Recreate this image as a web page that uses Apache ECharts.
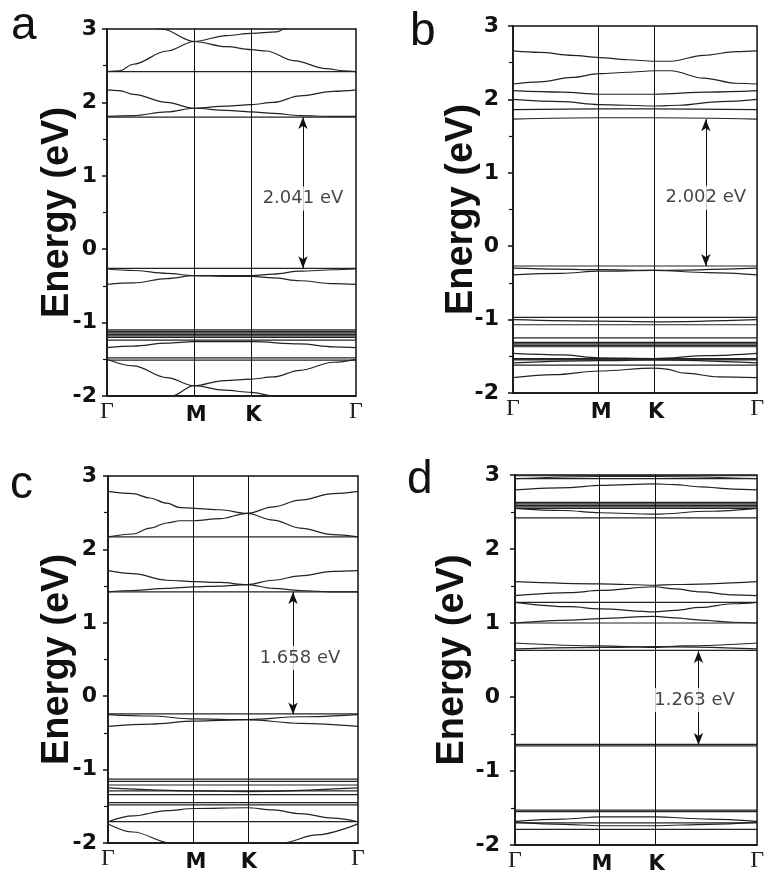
<!DOCTYPE html>
<html>
<head>
<meta charset="utf-8">
<script src="https://cdn.jsdelivr.net/npm/echarts@6/dist/echarts.min.js"></script>
<style>
html,body{margin:0;padding:0;background:#fff;}
#band{width:767px;height:875px;}
</style>
</head>
<body>
<div id="band"></div>
<script>
// band structures along Γ-M-K-Γ, four panels (a-d)
// k positions are fractions of the path, energies in eV

var kLabels = ['Γ', 'M', 'K', 'Γ'];
var kA = [0, 0.35, 0.58, 1];
var kB = [0, 0.353, 0.578, 1];
var kC = [0, 0.344, 0.556, 1];
var kD = [0, 0.351, 0.577, 1];

var bandsA = [
	[[0,2.42],[1,2.42]],
	[[0,2.42],[0.05,2.43],[0.106,2.52],[0.24,2.70],[0.35,2.83],[0.48,2.91],[0.58,2.94],[0.68,2.96],[0.715,3.0],[0.75,3.05]],
	[[0.16,3.06],[0.22,3.0],[0.35,2.83],[0.48,2.76],[0.58,2.72],[0.64,2.70],[0.75,2.57],[0.88,2.46],[0.95,2.43],[1,2.42]],
	[[0,1.80],[1,1.80]],
	[[0,1.81],[0.106,1.82],[0.24,1.87],[0.35,1.92],[0.48,1.95],[0.58,1.97],[0.668,2.00],[0.775,2.09],[0.909,2.15],[1,2.17]],
	[[0,2.17],[0.05,2.16],[0.106,2.11],[0.24,2.00],[0.35,1.92],[0.48,1.89],[0.58,1.87],[0.668,1.85],[0.775,1.82],[0.909,1.81],[1,1.81]],
	[[0,-0.26],[1,-0.26]],
	[[0,-0.27],[0.106,-0.29],[0.24,-0.33],[0.35,-0.36],[0.48,-0.37],[0.58,-0.37],[0.668,-0.39],[0.775,-0.43],[0.909,-0.47],[1,-0.48]],
	[[0,-0.48],[0.106,-0.46],[0.24,-0.40],[0.35,-0.36],[0.48,-0.36],[0.58,-0.36],[0.668,-0.34],[0.775,-0.30],[0.909,-0.28],[1,-0.27]],
	[[0,-1.10],[1,-1.10]],
	[[0,-1.12],[1,-1.12]],
	[[0,-1.14],[1,-1.14]],
	[[0,-1.16],[1,-1.16]],
	[[0,-1.18],[1,-1.18]],
	[[0,-1.20],[1,-1.20]],
	[[0,-1.24],[1,-1.24]],
	[[0,-1.34],[0.106,-1.32],[0.24,-1.28],[0.35,-1.26],[0.58,-1.26],[0.775,-1.29],[0.909,-1.33],[1,-1.34]],
	[[0,-1.48],[1,-1.48]],
	[[0,-1.51],[1,-1.51]],
	[[0,-1.50],[0.106,-1.59],[0.24,-1.75],[0.35,-1.86],[0.47,-1.92],[0.58,-1.95],[0.668,-2.0],[0.75,-2.04]],
	[[0.2,-2.05],[0.26,-2.0],[0.35,-1.86],[0.47,-1.79],[0.58,-1.77],[0.668,-1.74],[0.775,-1.65],[0.909,-1.54],[1,-1.50]]
];

var bandsB = [
	[[0,2.66],[0.11,2.64],[0.243,2.60],[0.353,2.57],[0.47,2.54],[0.578,2.52],[0.646,2.52],[0.78,2.60],[0.915,2.65],[1,2.66]],
	[[0,2.21],[0.11,2.24],[0.243,2.30],[0.353,2.35],[0.47,2.37],[0.578,2.39],[0.646,2.39],[0.78,2.29],[0.915,2.22],[1,2.21]],
	[[0,2.12],[0.2,2.10],[0.353,2.07],[0.578,2.07],[0.8,2.10],[1,2.12]],
	[[0,2.00],[0.2,1.97],[0.353,1.93],[0.578,1.91],[0.68,1.92],[0.85,1.97],[1,2.00]],
	[[0,1.86],[0.353,1.87],[0.578,1.87],[1,1.86]],
	[[0,1.73],[0.353,1.75],[0.578,1.75],[1,1.73]],
	[[0,-0.27],[1,-0.27]],
	[[0,-0.30],[0.353,-0.32],[0.578,-0.33],[1,-0.30]],
	[[0,-0.39],[0.2,-0.37],[0.353,-0.34],[0.578,-0.33],[0.8,-0.36],[1,-0.39]],
	[[0,-0.97],[1,-0.97]],
	[[0,-1.00],[0.353,-1.02],[0.578,-1.03],[1,-1.00]],
	[[0,-1.07],[1,-1.07]],
	[[0,-1.25],[1,-1.25]],
	[[0,-1.31],[1,-1.31]],
	[[0,-1.33],[1,-1.33]],
	[[0,-1.35],[1,-1.35]],
	[[0,-1.37],[1,-1.37]],
	[[0,-1.46],[0.2,-1.48],[0.353,-1.52],[0.578,-1.53],[0.8,-1.49],[1,-1.46]],
	[[0,-1.53],[1,-1.53]],
	[[0,-1.54],[1,-1.54]],
	[[0,-1.55],[1,-1.55]],
	[[0,-1.59],[0.353,-1.56],[0.578,-1.55],[1,-1.59]],
	[[0,-1.62],[1,-1.62]],
	[[0,-1.79],[0.169,-1.75],[0.353,-1.70],[0.578,-1.66],[0.62,-1.67],[0.706,-1.73],[0.84,-1.78],[1,-1.79]]
];

var bandsC = [
	[[0,2.79],[0.10,2.76],[0.168,2.70],[0.235,2.63],[0.288,2.57],[0.344,2.56],[0.448,2.54],[0.556,2.49],[0.661,2.40],[0.768,2.29],[0.901,2.20],[1,2.17]],
	[[0,2.17],[0.10,2.21],[0.168,2.29],[0.235,2.36],[0.288,2.39],[0.344,2.39],[0.448,2.42],[0.556,2.49],[0.661,2.58],[0.768,2.67],[0.901,2.76],[1,2.79]],
	[[0,2.17],[1,2.17]],
	[[0,1.71],[0.10,1.67],[0.235,1.58],[0.344,1.56],[0.448,1.55],[0.556,1.52],[0.661,1.58],[0.768,1.64],[0.901,1.70],[1,1.71]],
	[[0,1.42],[0.10,1.44],[0.235,1.47],[0.344,1.49],[0.448,1.50],[0.556,1.52],[0.661,1.47],[0.768,1.44],[0.901,1.42],[1,1.42]],
	[[0,1.42],[1,1.42]],
	[[0,-0.24],[1,-0.24]],
	[[0,-0.25],[0.17,-0.27],[0.344,-0.31],[0.556,-0.32],[0.77,-0.28],[1,-0.25]],
	[[0,-0.41],[0.17,-0.38],[0.344,-0.34],[0.556,-0.32],[0.77,-0.37],[1,-0.41]],
	[[0,-1.13],[1,-1.13]],
	[[0,-1.16],[1,-1.16]],
	[[0,-1.21],[1,-1.21]],
	[[0,-1.25],[0.344,-1.29],[0.556,-1.30],[1,-1.25]],
	[[0,-1.29],[1,-1.29]],
	[[0,-1.34],[1,-1.34]],
	[[0,-1.45],[1,-1.45]],
	[[0,-1.48],[1,-1.48]],
	[[0,-1.71],[0.10,-1.63],[0.235,-1.56],[0.344,-1.53],[0.556,-1.52],[0.661,-1.55],[0.768,-1.60],[0.901,-1.66],[1,-1.71]],
	[[0,-1.71],[1,-1.71]],
	[[0,-1.74],[0.10,-1.85],[0.25,-2.0],[0.3,-2.05]],
	[[0.65,-2.05],[0.695,-2.0],[0.835,-1.89],[1,-1.74]]
];

var bandsD = [
	[[0,2.99],[1,2.99]],
	[[0,2.95],[0.351,2.98],[0.577,2.98],[1,2.95]],
	[[0,2.95],[1,2.95]],
	[[0,2.80],[0.228,2.83],[0.351,2.86],[0.577,2.88],[0.659,2.87],[0.766,2.84],[0.9,2.81],[1,2.80]],
	[[0,2.63],[1,2.63]],
	[[0,2.61],[1,2.61]],
	[[0,2.59],[1,2.59]],
	[[0,2.57],[1,2.57]],
	[[0,2.55],[1,2.55]],
	[[0,2.55],[0.2,2.52],[0.351,2.49],[0.577,2.47],[0.8,2.51],[1,2.55]],
	[[0,2.42],[1,2.42]],
	[[0,1.56],[0.351,1.53],[0.577,1.51],[0.659,1.52],[1,1.56]],
	[[0,1.37],[0.228,1.41],[0.351,1.44],[0.577,1.49],[0.659,1.46],[0.766,1.42],[0.9,1.38],[1,1.37]],
	[[0,1.28],[1,1.28]],
	[[0,1.28],[0.228,1.22],[0.351,1.19],[0.577,1.15],[0.659,1.17],[0.766,1.21],[0.9,1.26],[1,1.28]],
	[[0,1.00],[1,1.00]],
	[[0,1.00],[0.228,1.04],[0.351,1.06],[0.577,1.09],[0.659,1.07],[0.766,1.04],[0.9,1.01],[1,1.00]],
	[[0,0.73],[0.351,0.69],[0.577,0.67],[0.7,0.69],[1,0.73]],
	[[0,0.65],[0.351,0.67],[0.577,0.68],[1,0.65]],
	[[0,0.63],[1,0.63]],
	[[0,-0.64],[1,-0.64]],
	[[0,-0.66],[1,-0.66]],
	[[0,-1.53],[1,-1.53]],
	[[0,-1.55],[1,-1.55]],
	[[0,-1.68],[0.2,-1.65],[0.351,-1.62],[0.577,-1.62],[0.8,-1.65],[1,-1.68]],
	[[0,-1.69],[0.2,-1.72],[0.351,-1.74],[0.577,-1.74],[0.8,-1.72],[1,-1.69]],
	[[0,-1.70],[1,-1.70]],
	[[0,-1.79],[1,-1.79]]
];

// gap arrows: [k of arrow, CBM, VBM], label [k, E] and text
var gapA = {arrow:[0.787, 1.80, -0.26], label:[0.787, 0.69], text:'2.041 eV'};
var gapB = {arrow:[0.79, 1.73, -0.27], label:[0.79, 0.66], text:'2.002 eV'};
var gapC = {arrow:[0.74, 1.42, -0.25], label:[0.768, 0.52], text:'1.658 eV'};
var gapD = {arrow:[0.758, 0.62, -0.65], label:[0.742, -0.04], text:'1.263 eV'};

var panelLetters = ['a', 'b', 'c', 'd'];

var panels = [
	{k:kA, bands:bandsA, gap:gapA, grid:{left:107, top:29, width:249, height:367}, labelMargin:10, nameGap:30, letter:[11, 3]},
	{k:kB, bands:bandsB, gap:gapB, grid:{left:513, top:26, width:248, height:367}, labelMargin:14, nameGap:32, letter:[410, 9]},
	{k:kC, bands:bandsC, gap:gapC, grid:{left:108, top:476, width:250, height:367}, labelMargin:11, nameGap:31, letter:[10, 462]},
	{k:kD, bands:bandsD, gap:gapD, grid:{left:515, top:475, width:248, height:370}, labelMargin:15, nameGap:43, letter:[407, 457]}
];

var sansFont = '"Liberation Sans", Arial, Helvetica, sans-serif';
var wideFont = '"DejaVu Sans", Verdana, sans-serif';
var serifFont = '"Liberation Serif", "Times New Roman", serif';

var myChart = echarts.init(document.getElementById('band'));

var grids = [], xAxes = [], yAxes = [], series = [], titles = [];

panels.forEach(function (p, i) {
	grids.push({
		left:p.grid.left, top:p.grid.top, width:p.grid.width, height:p.grid.height,
		show:true, borderColor:'#111', borderWidth:1.5, containLabel:false
	});
	xAxes.push({
		gridIndex:i, type:'value', min:0, max:1,
		axisLine:{show:true, onZero:false, lineStyle:{color:'#111', width:1.5}},
		axisTick:{show:false},
		splitLine:{show:false},
		axisLabel:{
			customValues:p.k,
			margin:4,
			formatter:function (v) {
				var idx = 0, best = 9;
				p.k.forEach(function (kk, j) { if (Math.abs(kk - v) < best) { best = Math.abs(kk - v); idx = j; } });
				return kLabels[idx] === 'Γ' ? '{g|Γ}' : '{b|' + kLabels[idx] + '}';
			},
			rich:{
				g:{fontFamily:serifFont, fontSize:24, color:'#222', lineHeight:24},
				b:{fontFamily:wideFont, fontSize:21, fontWeight:'bold', color:'#111', lineHeight:24, padding:[7, 0, 0, 4]}
			}
		}
	});
	yAxes.push({
		gridIndex:i, type:'value', min:-2, max:3, interval:1,
		name:'Energy (eV)', nameLocation:'middle', nameGap:p.nameGap, nameRotate:90,
		nameMoveOverlap:false,
		nameTextStyle:{fontFamily:sansFont, fontSize:38, fontWeight:'bold', color:'#111'},
		axisLine:{show:true, lineStyle:{color:'#111', width:1.5}},
		axisTick:{show:true, inside:false, length:5, lineStyle:{color:'#111', width:1.5}},
		minorTick:{show:true, splitNumber:2, length:4, lineStyle:{color:'#111', width:1.2}},
		splitLine:{show:false},
		axisLabel:{fontFamily:wideFont, fontSize:22, fontWeight:'bold', color:'#111', margin:p.labelMargin}
	});

	p.bands.forEach(function (b, j) {
		var s = {
			type:'line', xAxisIndex:i, yAxisIndex:i, data:b,
			showSymbol:false, smooth:0.35, smoothMonotone:'x', clip:true,
			silent:true, animation:false,
			lineStyle:{color:'#222', width:1.2}
		};
		if (j === 0) {
			s.markLine = {
				silent:true, animation:false, symbol:['none', 'none'],
				label:{show:false},
				lineStyle:{color:'#111', width:1, type:'solid'},
				data:[{xAxis:p.k[1]}, {xAxis:p.k[2]}]
			};
		}
		series.push(s);
	});

	// gap annotation: double arrow plus text on white
	series.push({
		type:'scatter', xAxisIndex:i, yAxisIndex:i, z:10,
		data:[p.gap.label], symbolSize:0, silent:true, animation:false,
		label:{
			show:true, position:'inside', formatter:p.gap.text,
			fontFamily:wideFont, fontSize:18, color:'#151515',
			backgroundColor:'#fff', padding:[3, 1]
		},
		markLine:{
			silent:true, animation:false, z:1,
			symbol:['arrow', 'arrow'], symbolSize:[7, 12],
			label:{show:false},
			lineStyle:{color:'#111', width:1, type:'solid'},
			data:[[{coord:[p.gap.arrow[0], p.gap.arrow[1]]}, {coord:[p.gap.arrow[0], p.gap.arrow[2]]}]]
		}
	});

	titles.push({
		text:panelLetters[i], left:p.letter[0], top:p.letter[1], padding:0,
		textStyle:{fontFamily:sansFont, fontSize:46, fontWeight:'normal', color:'#111'}
	});
});

var option = {
	backgroundColor:'#fff',
	animation:false,
	title:titles,
	grid:grids,
	xAxis:xAxes,
	yAxis:yAxes,
	series:series
};

myChart.setOption(option);
</script>
</body>
</html>
